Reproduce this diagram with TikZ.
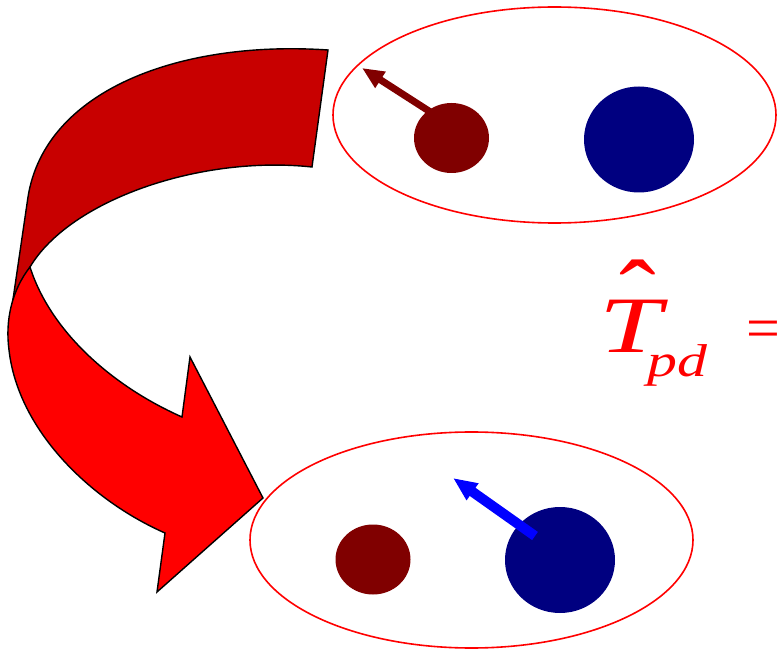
\documentclass[tikz,border=0pt]{standalone}
\usepackage{fontspec}
\setmainfont{Liberation Serif}
\usetikzlibrary{shapes.geometric,arrows.meta}
\definecolor{bandred}{HTML}{C80000}
\definecolor{brightred}{HTML}{FF0000}
\definecolor{brownball}{HTML}{800000}
\definecolor{navyball}{HTML}{000080}
\definecolor{bluearrow}{HTML}{0000FF}
\tikzset{
  group/.style={ellipse, draw=red, line width=1.6pt, inner sep=0pt, minimum width=443pt, minimum height=216pt},
  smallball/.style={ellipse, fill=brownball, inner sep=0pt, minimum width=75pt, minimum height=70pt},
  bigball/.style={ellipse, fill=navyball, inner sep=0pt, minimum width=110pt, minimum height=106pt},
  ribbon/.style={draw=black, line width=1.4pt, line join=miter},
  spin/.style={line width=7pt, -{Triangle[length=22pt,width=18pt]}},
  redtext/.style={text=red, inner sep=0pt}
}
\begin{document}
\begin{tikzpicture}[x=1pt,y=-1pt]
\useasboundingbox (0,0) rectangle (777,652);
% ellipses
\node[group] (top) at (554.5,115) {};
\node[group] (bot) at (471.5,540) {};
% balls
\node[smallball] (p1) at (451.5,138) {};
\node[bigball] (n1) at (639,139.5) {};
\node[smallball] (p2) at (373,559.5) {};
\node[bigball] (n2) at (560,560) {};
% spin arrows
\coordinate (s1a) at (432,113);
\coordinate (s1b) at (362,68);
\draw[spin, brownball] (s1a) -- (s1b);
\coordinate (s2a) at (535,536);
\coordinate (s2b) at (453,478);
\draw[spin, bluearrow, line width=10pt, -{Triangle[length=24pt,width=19pt]}] (s2a) -- (s2b);
% curved ribbon arrow: back part
\draw[ribbon, fill=bandred] (328,50) .. controls (180,40) and (45,90) .. (28,197)
  -- (11,313) .. controls (14,298) and (22,280) .. (30,267)
  .. controls (70,200) and (200,155) .. (312,167) -- cycle;
% front part
\draw[ribbon, fill=brightred] (30,267) .. controls (12,290) and (5,320) .. (9,350)
  .. controls (18,430) and (90,500) .. (165,533)
  -- (157,592) -- (263,498) -- (190,357) -- (182,417)
  .. controls (110,385) and (50,330) .. (30,267) -- cycle;
% formula
\node[redtext, font=\itshape\fontsize{80}{80}\selectfont, anchor=base west, xscale=1.4] (T) at (599,353) {T};
\node[redtext, font=\fontsize{100}{100}\selectfont, anchor=base, xscale=1.1] (hat) at (638,330) {ˆ};
\node[redtext, font=\itshape\fontsize{46}{46}\selectfont, anchor=base west, xscale=1.3] (pd) at (647,377) {pd};
\node[redtext, font=\fontsize{60}{60}\selectfont, anchor=west] (eq) at (746,335) {=};
\end{tikzpicture}
\end{document}
